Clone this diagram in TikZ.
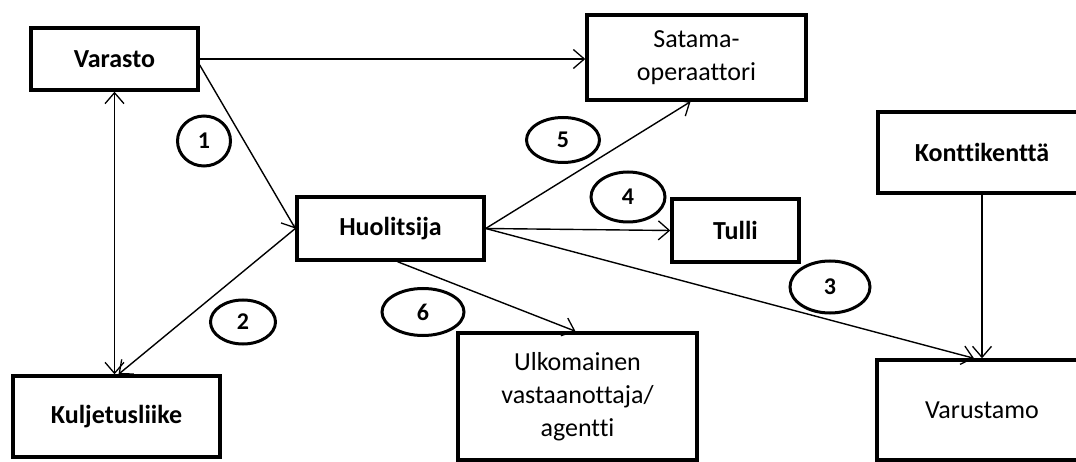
\documentclass[tikz,border=0pt]{standalone}
\usepackage{fontspec}
\setmainfont{Carlito}[Ligatures=NoCommon]
\usetikzlibrary{arrows.meta,shapes.geometric}
\begin{document}
\begin{tikzpicture}[x=1pt,y=-1pt,
  box/.style={draw, line width=3.4pt, rectangle, inner sep=0pt, align=center,
    font=\fontsize{26}{33}\selectfont},
  boldbox/.style={box, font=\fontsize{26}{33}\selectfont\bfseries},
  tag/.style={draw, ellipse, line width=3pt, inner sep=0pt,
    font=\fontsize{24}{24}\selectfont\bfseries},
  barb/.tip={Straight Barb[length=11pt,width=19pt,line width=1.3pt]},
  link/.style={line width=1.4pt, -barb},
  twoway/.style={line width=1.4pt, barb-barb},
]
\useasboundingbox (0,0) rectangle (1076,462);
\clip (0,0) rectangle (1076,462);

% parties
\node[boldbox, minimum width=167pt, minimum height=62pt] (varasto) at (114.5,59) {Varasto};
\node[box, minimum width=219pt, minimum height=85pt] (satama) at (696.5,57.5) {Satama-\\operaattori};
\node[boldbox, minimum width=208pt, minimum height=81pt] (kontti) at (982,152.5) {Konttikenttä};
\node[boldbox, minimum width=187pt, minimum height=63pt] (huolitsija) at (390.5,228.5) {Huolitsija};
\node[boldbox, minimum width=127pt, minimum height=63pt] (tulli) at (735.5,230.5) {Tulli};
\node[boldbox, minimum width=207pt, minimum height=81pt] (kuljetus) at (116.5,416.5) {Kuljetusliike};
\node[box, minimum width=239pt, minimum height=127pt] (ulkomainen) at (577.5,396.5) {Ulkomainen\\vastaanottaja/\\agentti};
\node[box, minimum width=210pt, minimum height=100pt] (varustamo) at (982,410) {Varustamo};

% flows
\draw[link] (varasto.east) -- (varasto.east -| satama.west);
\draw[twoway] (varasto.south) -- (varasto.south |- kuljetus.north);
\draw[link] ([yshift=-6pt]varasto.east) -- (huolitsija.west);
\draw[link] (huolitsija.west) -- ([xshift=2pt]kuljetus.north);
\draw[link] (huolitsija.east) -- ([xshift=-6pt]satama.south);
\draw[link] (huolitsija.east) -- (tulli.west);
\draw[link] (huolitsija.east) -- ([xshift=-8pt]varustamo.north);
\draw[link] ([xshift=7pt]huolitsija.south) -- ([xshift=-2pt]ulkomainen.north);
\draw[link] (kontti.south) -- (varustamo.north);

% step numbers
\node[tag, minimum width=53pt, minimum height=50pt] (n1) at (204,141) {1};
\node[tag, minimum width=65pt, minimum height=44pt] (n2) at (243,322) {2};
\node[tag, minimum width=80pt, minimum height=52pt] (n3) at (830,287) {3};
\node[tag, minimum width=74pt, minimum height=50pt] (n4) at (628,197) {4};
\node[tag, minimum width=73pt, minimum height=45pt] (n5) at (563,140) {5};
\node[tag, minimum width=82pt, minimum height=47pt] (n6) at (423,312) {6};
\end{tikzpicture}
\end{document}
